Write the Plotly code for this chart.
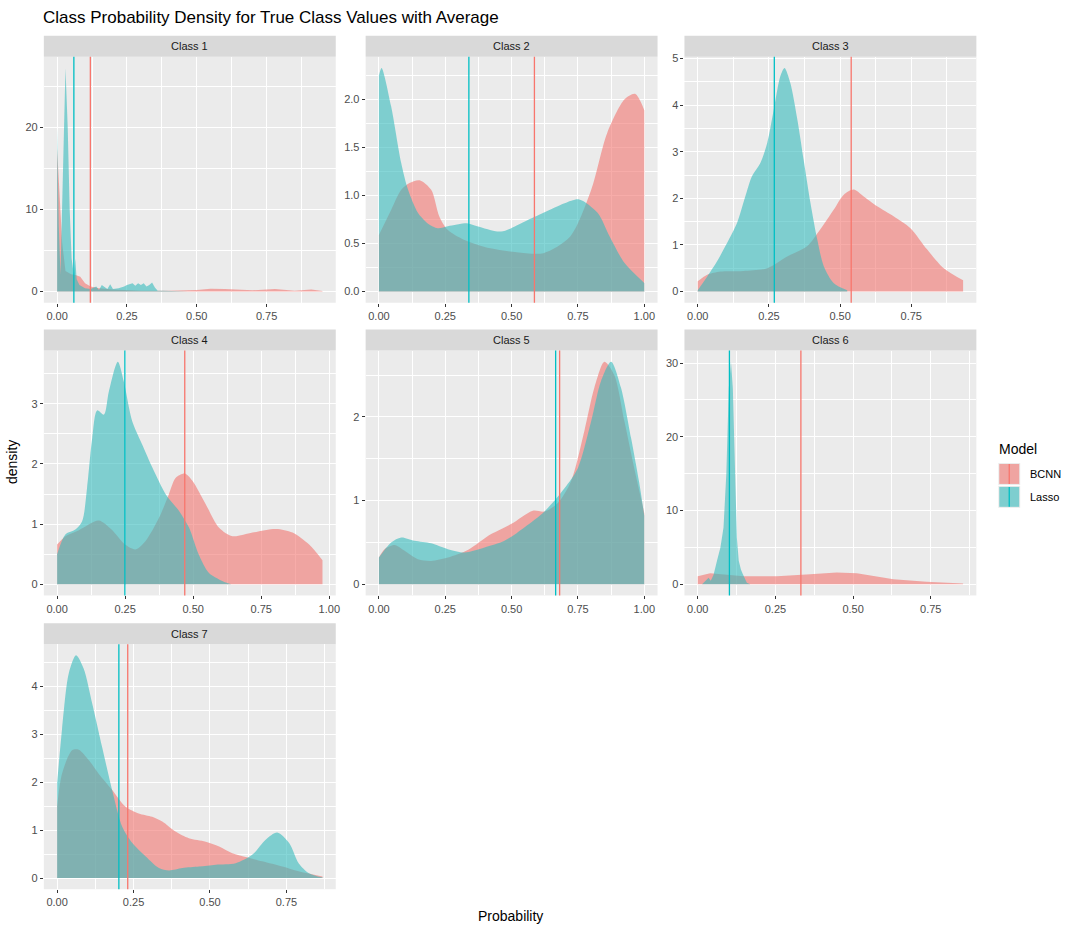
import plotly.graph_objects as go

# class names and models
classes = ["Class 1", "Class 2", "Class 3", "Class 4", "Class 5", "Class 6", "Class 7"]
models = ["BCNN", "Lasso"]

# density curves (x = probability, y = density)
c1_x_bcnn = [0, 0.01, 0.018, 0.03, 0.05, 0.066, 0.083, 0.1, 0.12, 0.15, 0.2, 0.3, 0.4, 0.5, 0.55, 0.6, 0.7, 0.78, 0.85, 0.91, 0.95]
c1_y_bcnn = [17.4, 10, 6, 2.5, 2.1, 2.0, 1.8, 1.0, 0.6, 0.4, 0.25, 0.1, 0.1, 0.2, 0.35, 0.3, 0.15, 0.3, 0.1, 0.25, 0.05]
c1_x_lasso = [0, 0.006, 0.012, 0.02, 0.03, 0.038, 0.045, 0.052, 0.06, 0.065, 0.07, 0.08, 0.1, 0.12, 0.14, 0.15, 0.16, 0.18,
              0.19, 0.2, 0.22, 0.24, 0.25, 0.27, 0.28, 0.29, 0.3, 0.31, 0.32, 0.33, 0.34, 0.35, 0.36, 0.38, 0.42, 0.47]
c1_y_lasso = [20, 8, 2, 14, 27.2, 20, 10, 4, 2, 4, 1.5, 0.8, 0.4, 0.3, 0.6, 0.2, 0.8, 0.3,
              0.9, 0.3, 0.4, 0.6, 0.8, 1.0, 0.7, 1.0, 0.8, 1.0, 0.6, 0.8, 1.1, 0.5, 0.1, 0.1, 0.05, 0]

c2_x_bcnn = [0, 0.046, 0.084, 0.115, 0.153, 0.197, 0.228, 0.26, 0.32, 0.42, 0.52, 0.62, 0.72, 0.8, 0.86, 0.925, 0.965, 1.0]
c2_y_bcnn = [0.59, 0.85, 1.06, 1.13, 1.16, 1.06, 0.78, 0.64, 0.54, 0.45, 0.41, 0.40, 0.57, 1.06, 1.65, 2.0, 2.06, 1.89]
c2_x_lasso = [0, 0.01, 0.046, 0.084, 0.11, 0.147, 0.184, 0.222, 0.26, 0.335, 0.37, 0.46, 0.55, 0.62, 0.7, 0.755, 0.824, 0.87, 0.925, 1.0]
c2_y_lasso = [2.25, 2.33, 1.93, 1.34, 1.06, 0.82, 0.71, 0.66, 0.68, 0.71, 0.68, 0.625, 0.73, 0.82, 0.92, 0.96, 0.82, 0.57, 0.30, 0.09]

c3_x_bcnn = [0, 0.033, 0.08, 0.16, 0.244, 0.314, 0.384, 0.43, 0.478, 0.513, 0.548, 0.583, 0.63, 0.689, 0.747, 0.806, 0.864, 0.932]
c3_y_bcnn = [0.22, 0.36, 0.43, 0.44, 0.5, 0.75, 0.97, 1.33, 1.76, 2.08, 2.19, 2.04, 1.83, 1.61, 1.36, 0.9, 0.5, 0.24]
c3_x_lasso = [0, 0.033, 0.068, 0.103, 0.138, 0.167, 0.19, 0.22, 0.244, 0.267, 0.29, 0.305, 0.325, 0.35, 0.372, 0.396, 0.42, 0.443, 0.478, 0.525]
c3_y_lasso = [0.03, 0.32, 0.65, 1.04, 1.47, 2.04, 2.47, 2.76, 3.19, 3.9, 4.62, 4.8, 4.48, 3.69, 2.83, 1.9, 1.11, 0.54, 0.18, 0.03]

c4_x_bcnn = [0, 0.031, 0.08, 0.153, 0.2, 0.25, 0.288, 0.325, 0.374, 0.41, 0.436, 0.469, 0.497, 0.546, 0.595, 0.644, 0.718, 0.804, 0.865, 0.926, 0.975]
c4_y_bcnn = [0.66, 0.8, 0.9, 1.06, 0.91, 0.66, 0.58, 0.72, 1.1, 1.49, 1.77, 1.84, 1.72, 1.33, 0.94, 0.8, 0.86, 0.92, 0.86, 0.66, 0.4]
c4_x_lasso = [0, 0.031, 0.067, 0.092, 0.11, 0.129, 0.147, 0.172, 0.19, 0.223, 0.245, 0.276, 0.313, 0.35, 0.4, 0.448, 0.485, 0.52, 0.558, 0.62, 0.64]
c4_y_lasso = [0.5, 0.83, 0.91, 1.05, 1.6, 2.43, 2.89, 2.82, 3.2, 3.7, 3.37, 2.71, 2.32, 1.94, 1.49, 1.22, 0.94, 0.5, 0.19, 0.03, 0.0]

c5_x_bcnn = [0, 0.021, 0.059, 0.097, 0.147, 0.197, 0.26, 0.335, 0.423, 0.498, 0.58, 0.624, 0.674, 0.724, 0.774, 0.812, 0.85, 0.887, 0.925, 0.962, 1.0]
c5_y_bcnn = [0.32, 0.42, 0.47, 0.4, 0.3, 0.28, 0.32, 0.41, 0.6, 0.72, 0.88, 0.87, 0.97, 1.23, 1.83, 2.35, 2.66, 2.5, 1.95, 1.39, 0.85]
c5_x_lasso = [0, 0.046, 0.084, 0.134, 0.197, 0.26, 0.322, 0.398, 0.473, 0.548, 0.624, 0.7, 0.75, 0.8, 0.837, 0.875, 0.912, 0.95, 0.98, 1.0]
c5_y_lasso = [0.32, 0.5, 0.56, 0.52, 0.49, 0.42, 0.38, 0.44, 0.52, 0.68, 0.87, 1.15, 1.39, 1.95, 2.43, 2.66, 2.35, 1.75, 1.23, 0.82]

c6_x_bcnn = [0, 0.04, 0.148, 0.255, 0.362, 0.447, 0.512, 0.576, 0.63, 0.736, 0.854]
c6_y_bcnn = [1.1, 1.5, 1.1, 1.1, 1.35, 1.6, 1.5, 1.0, 0.68, 0.36, 0.1]
c6_x_lasso = [0.014, 0.03, 0.035, 0.042, 0.051, 0.062, 0.073, 0.083, 0.092, 0.1, 0.107, 0.113, 0.119, 0.126, 0.132, 0.139, 0.145, 0.158, 0.169]
c6_y_lasso = [0, 0.7, 0.9, 0.5, 1.3, 3.2, 5, 7.7, 15, 26.6, 30.2, 26.6, 15.3, 6.3, 3.2, 2.0, 1.4, 0.2, 0]

c7_x_bcnn = [0, 0.016, 0.049, 0.071, 0.104, 0.136, 0.18, 0.224, 0.267, 0.311, 0.344, 0.387, 0.431, 0.486, 0.53, 0.573, 0.617, 0.671, 0.737, 0.79, 0.868]
c7_y_bcnn = [1.49, 2.18, 2.67, 2.68, 2.46, 2.18, 1.84, 1.49, 1.35, 1.28, 1.18, 0.97, 0.83, 0.76, 0.66, 0.52, 0.44, 0.35, 0.24, 0.14, 0.03]
c7_x_lasso = [0, 0.016, 0.038, 0.062, 0.087, 0.115, 0.147, 0.18, 0.213, 0.246, 0.29, 0.333, 0.366, 0.41, 0.464, 0.519, 0.584, 0.639, 0.682, 0.72, 0.759, 0.79, 0.824, 0.868]
c7_y_lasso = [1.98, 3.1, 4.27, 4.65, 4.37, 3.64, 2.74, 1.84, 1.07, 0.73, 0.45, 0.21, 0.16, 0.21, 0.24, 0.28, 0.31, 0.49, 0.8, 0.95, 0.73, 0.31, 0.1, 0.01]

# average probability per class (vertical lines)
mean_bcnn = [0.119, 0.586, 0.539, 0.469, 0.681, 0.332, 0.231]
mean_lasso = [0.060, 0.339, 0.269, 0.249, 0.666, 0.102, 0.202]

# y tick spacing per panel
y_dtick = [10, 0.5, 1, 1, 1, 10, 1]

curves = [
    ((c1_x_bcnn, c1_y_bcnn), (c1_x_lasso, c1_y_lasso)),
    ((c2_x_bcnn, c2_y_bcnn), (c2_x_lasso, c2_y_lasso)),
    ((c3_x_bcnn, c3_y_bcnn), (c3_x_lasso, c3_y_lasso)),
    ((c4_x_bcnn, c4_y_bcnn), (c4_x_lasso, c4_y_lasso)),
    ((c5_x_bcnn, c5_y_bcnn), (c5_x_lasso, c5_y_lasso)),
    ((c6_x_bcnn, c6_y_bcnn), (c6_x_lasso, c6_y_lasso)),
    ((c7_x_bcnn, c7_y_bcnn), (c7_x_lasso, c7_y_lasso)),
]

W, H = 1080, 933
FONT = "Liberation Sans, Arial, sans-serif"
line_col = {"BCNN": "#F8766D", "Lasso": "#00BFC4"}
# alpha fills tuned so they land on the reference tones over the grey panel
fill_col = {"BCNN": "rgba(242,117,112,0.6)", "Lasso": "rgba(53,187,188,0.6)"}

# panel boxes in pixels
cols = [(44, 337), (367, 660), (687, 980)]
rows = [(53, 300), (348, 594), (643, 889)]
strip_h = 21


def px(x):
    return x / W


def py(y):
    return 1 - y / H


fig = go.Figure()
shapes = []
annotations = []
layout = {}

for i, name in enumerate(classes):
    n = i + 1
    r, c = divmod(i, 3)
    xl, xr = cols[c]
    yt, yb = rows[r]
    xa = "x" if n == 1 else f"x{n}"
    ya = "y" if n == 1 else f"y{n}"

    all_x = []
    all_y = []
    for m, (xs, ys) in zip(models, curves[i]):
        all_x += xs
        all_y += ys
        spiky = name in ("Class 1", "Class 6")
        fig.add_trace(go.Scatter(
            x=xs, y=ys, xaxis=xa, yaxis=ya, mode="lines",
            line=dict(width=0, color=line_col[m],
                      shape="linear" if spiky else "spline", smoothing=0.8),
            fill="tozeroy", fillcolor=fill_col[m],
            name=m, showlegend=False, hoverinfo="x+y+name"))

    x0, x1 = min(all_x), max(all_x)
    xpad = (x1 - x0) * 0.05
    ymax = max(all_y)

    layout[f"xaxis{'' if n == 1 else n}"] = dict(
        domain=[px(xl), px(xr)], anchor=ya, range=[x0 - xpad, x1 + xpad],
        dtick=0.25, tick0=0, tickformat=".2f", showgrid=True, gridcolor="white", gridwidth=1.2,
        minor=dict(dtick=0.125, tick0=0, showgrid=True, gridcolor="white", gridwidth=0.6),
        zeroline=False, showline=False, ticks="outside", ticklen=3, tickcolor="#333333",
        tickfont=dict(size=11, color="#4d4d4d", family=FONT))
    layout[f"yaxis{'' if n == 1 else n}"] = dict(
        domain=[py(yb), py(yt)], anchor=xa, range=[-0.05 * ymax, 1.05 * ymax],
        dtick=y_dtick[i], tick0=0, tickformat=".1f" if y_dtick[i] < 1 else "d",
        showgrid=True, gridcolor="white", gridwidth=1.2,
        minor=dict(dtick=y_dtick[i] / 2, tick0=0, showgrid=True, gridcolor="white", gridwidth=0.6),
        zeroline=False, showline=False, ticks="outside", ticklen=3, tickcolor="#333333",
        tickfont=dict(size=11, color="#4d4d4d", family=FONT))

    # facet strip
    shapes.append(dict(type="rect", xref="paper", yref="paper",
                       x0=px(xl), x1=px(xr), y0=py(yt), y1=py(yt - strip_h),
                       fillcolor="#d9d9d9", line=dict(width=0), layer="below"))
    annotations.append(dict(text=name, xref="paper", yref="paper",
                            x=px((xl + xr) / 2), y=py(yt - strip_h / 2),
                            showarrow=False, xanchor="center", yanchor="middle",
                            font=dict(size=11, color="#1a1a1a", family=FONT)))

    # average lines
    for m, mv in zip(models, [mean_bcnn[i], mean_lasso[i]]):
        shapes.append(dict(type="line", xref=xa, yref=f"{ya} domain",
                           x0=mv, x1=mv, y0=0, y1=1,
                           line=dict(color=line_col[m], width=1.3), layer="above"))

# legend drawn by hand (ggplot style keys)
annotations.append(dict(text="Model", xref="paper", yref="paper", x=px(1001), y=py(447),
                        showarrow=False, xanchor="left", yanchor="middle",
                        font=dict(size=14, color="black", family=FONT)))
key_tops = [461, 484]
for m, kt in zip(models, key_tops):
    shapes.append(dict(type="rect", xref="paper", yref="paper",
                       x0=px(1002), x1=px(1024), y0=py(kt + 22), y1=py(kt),
                       fillcolor="#ebebeb", line=dict(width=0)))
    shapes.append(dict(type="rect", xref="paper", yref="paper",
                       x0=px(1003), x1=px(1023), y0=py(kt + 21), y1=py(kt + 1),
                       fillcolor=fill_col[m], line=dict(width=0)))
    shapes.append(dict(type="line", xref="paper", yref="paper",
                       x0=px(1013), x1=px(1013), y0=py(kt + 21), y1=py(kt + 1),
                       line=dict(color=line_col[m], width=1.3)))
    annotations.append(dict(text=m, xref="paper", yref="paper", x=px(1032), y=py(kt + 11),
                            showarrow=False, xanchor="left", yanchor="middle",
                            font=dict(size=11, color="black", family=FONT)))

# titles
annotations.append(dict(text="Class Probability Density for True Class Values with Average",
                        xref="paper", yref="paper", x=px(41), y=py(14),
                        showarrow=False, xanchor="left", yanchor="middle",
                        font=dict(size=17, color="black", family=FONT)))
annotations.append(dict(text="Probability", xref="paper", yref="paper", x=px(512), y=py(916),
                        showarrow=False, xanchor="center", yanchor="middle",
                        font=dict(size=14, color="black", family=FONT)))
annotations.append(dict(text="density", xref="paper", yref="paper", x=px(12), y=py(460),
                        showarrow=False, xanchor="center", yanchor="middle", textangle=-90,
                        font=dict(size=14, color="black", family=FONT)))

fig.update_layout(
    width=W, height=H, margin=dict(l=0, r=0, t=0, b=0),
    paper_bgcolor="white", plot_bgcolor="#ebebeb",
    showlegend=False, shapes=shapes, annotations=annotations,
    font=dict(family=FONT), **layout)

# drop the browser's default body margin so the figure sits at the page corner
fig.write_html("out.html", config={"displayModeBar": False},
               post_script="document.body.style.margin='0';document.body.style.overflow='hidden';")
